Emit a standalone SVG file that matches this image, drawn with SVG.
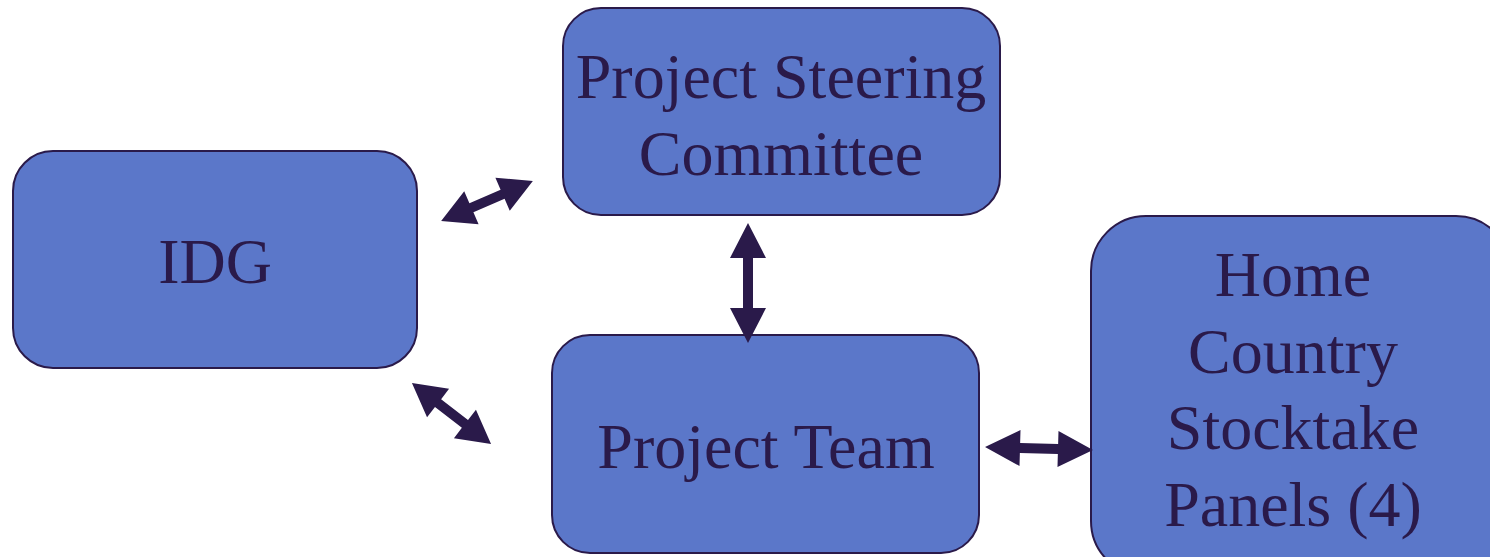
<svg xmlns="http://www.w3.org/2000/svg" width="1490" height="557" viewBox="0 0 1490 557">
  <style>
    .box { fill: #5b77c9; stroke: #2a1a4a; stroke-width: 2; }
    .label { font-family: "Liberation Serif", "Times New Roman", serif; fill: #2a1a4a; text-anchor: middle; font-size: 64px; }
    .link { fill: #2a1a4a; }
  </style>
  <rect width="1490" height="557" fill="#ffffff"/>

  <g id="node-idg">
    <rect class="box" x="13" y="151" width="404" height="217" rx="40" ry="40"/>
    <text class="label" x="215" y="283">IDG</text>
  </g>

  <g id="node-steering">
    <rect class="box" x="563" y="8" width="437" height="207" rx="38" ry="38"/>
    <text class="label" x="781" y="98">Project Steering</text>
    <text class="label" x="781" y="175">Committee</text>
  </g>

  <g id="node-team">
    <rect class="box" x="552" y="335" width="427" height="218" rx="38" ry="38"/>
    <text class="label" x="766" y="468">Project Team</text>
  </g>

  <g id="node-panels">
    <rect class="box" x="1091" y="216" width="420" height="360" rx="55" ry="55"/>
    <text class="label" x="1293" y="296">Home</text>
    <text class="label" x="1293" y="373">Country</text>
    <text class="label" x="1293" y="449">Stocktake</text>
    <text class="label" x="1293" y="526">Panels (4)</text>
  </g>

  <g id="connectors">
    <!-- IDG <-> Steering Committee -->
    <polygon class="link" transform="translate(487,201) rotate(-23.5)"
      points="-50,0 -17,-18 -17,-5 17,-5 17,-18 50,0 17,18 17,5 -17,5 -17,18"/>
    <!-- IDG <-> Project Team -->
    <polygon class="link" transform="translate(451.5,413.5) rotate(37.7)"
      points="-50,0 -17,-18 -17,-5 17,-5 17,-18 50,0 17,18 17,5 -17,5 -17,18"/>
    <!-- Steering Committee <-> Project Team -->
    <polygon class="link" transform="translate(748,283) rotate(90)"
      points="-60,0 -25,-18 -25,-5 25,-5 25,-18 60,0 25,18 25,5 -25,5 -25,18"/>
    <!-- Project Team <-> Panels -->
    <polygon class="link" transform="translate(1039,448.5) rotate(1.6)"
      points="-54,0 -19,-18 -19,-5 19,-5 19,-18 54,0 19,18 19,5 -19,5 -19,18"/>
  </g>
</svg>
